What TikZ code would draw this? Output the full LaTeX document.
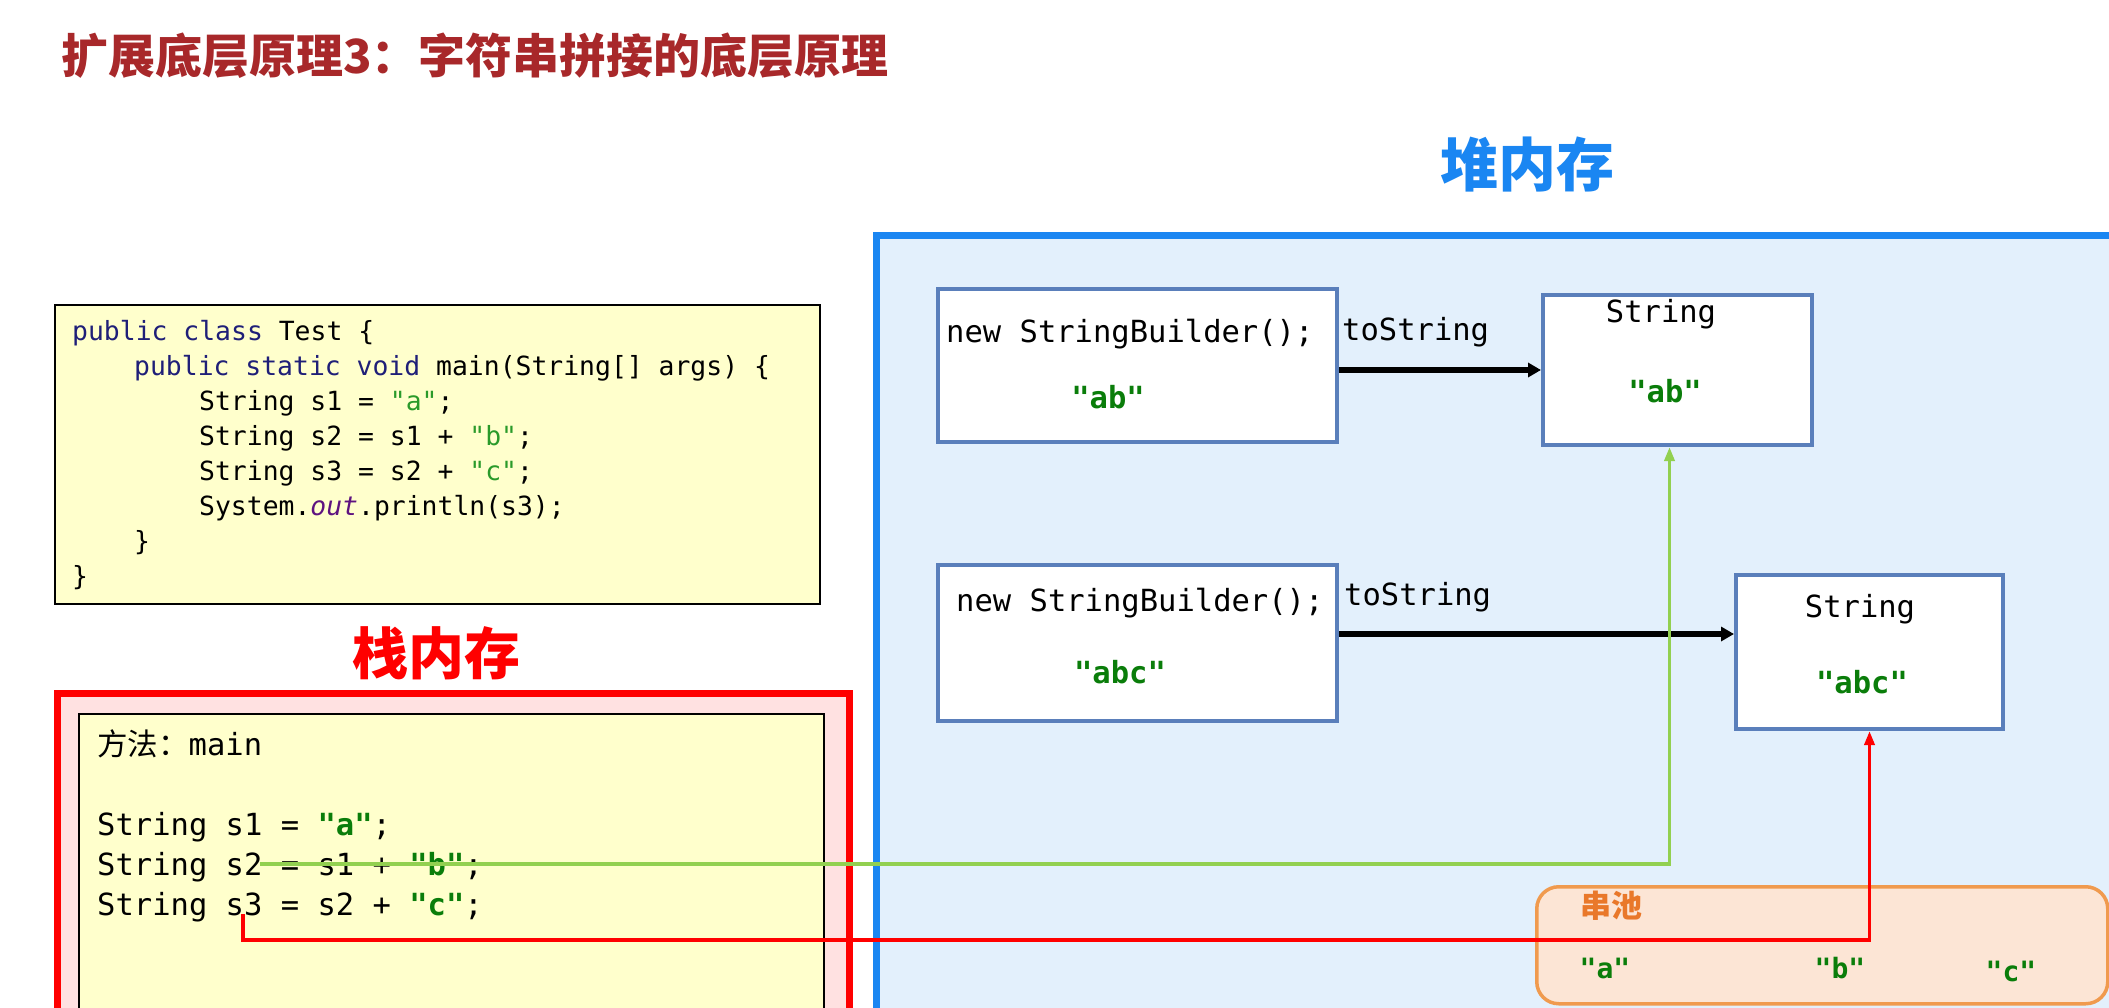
\documentclass[tikz,border=0pt]{standalone}
\usepackage{fontspec}
\usetikzlibrary{arrows.meta}
\newfontfamily\cjk{Noto Sans CJK SC}
\newfontfamily\mono{DejaVu Sans Mono}
\definecolor{titlered}{HTML}{A8282A}
\definecolor{stackred}{HTML}{FF0000}
\definecolor{stackfill}{HTML}{FFE1E1}
\definecolor{codefill}{HTML}{FFFFCC}
\definecolor{heapblue}{HTML}{1A86F2}
\definecolor{heapfill}{HTML}{E3F0FC}
\definecolor{boxblue}{HTML}{5A7FBB}
\definecolor{strgreen}{HTML}{0A7D0A}
\definecolor{codegreen}{HTML}{2A9A2A}
\definecolor{kwnavy}{HTML}{1F1F78}
\definecolor{outpurple}{HTML}{5E1380}
\definecolor{linkgreen}{HTML}{92D050}
\definecolor{poolfill}{HTML}{FCE5D5}
\definecolor{poolline}{HTML}{F09A4E}
\definecolor{poolorange}{HTML}{E9782A}
\tikzset{
  txt/.style={inner sep=0pt, anchor=base west},
  ctxt/.style={inner sep=0pt, anchor=base},
  codefont/.style={font=\mono\fontsize{26.4}{30}\selectfont},
  bigmono/.style={font=\mono\fontsize{30.5}{34}\selectfont},
  qstr/.style={font=\mono\bfseries\fontsize{30.5}{34}\selectfont, text=strgreen},
  poolstr/.style={font=\mono\bfseries\fontsize{28}{32}\selectfont, text=strgreen},
  objbox/.style={draw=boxblue, line width=4pt, fill=white, anchor=north west, inner sep=0pt},
  blackarrow/.style={line width=5.5pt, -{Triangle[length=13pt,width=14pt]}},
  greenlink/.style={draw=linkgreen, line width=3.5pt, -{Triangle[length=14pt,width=10pt]}},
  redlink/.style={draw=stackred, line width=3.5pt, -{Triangle[length=14pt,width=10pt]}},
}
\begin{document}
\begin{tikzpicture}[x=1pt,y=-1pt]
\clip (0,0) rectangle (2109,1008);
\fill[white] (0,0) rectangle (2109,1008);

% title
\node[txt, font=\cjk\bfseries\fontsize{47}{52}\selectfont, text=titlered] (title) at (61,74) {扩展底层原理3：字符串拼接的底层原理};

% heap area
\node[draw=heapblue, fill=heapfill, line width=7pt, anchor=north west, minimum width=1300pt, minimum height=840pt, inner sep=0pt] (heap) at (873,232) {};
\node[ctxt, font=\cjk\bfseries\fontsize{58}{64}\selectfont, text=heapblue] (heaplabel) at (1527,187) {堆内存};

% stack area
\node[draw=stackred, fill=stackfill, line width=7pt, anchor=north west, minimum width=792pt, minimum height=400pt, inner sep=0pt] (stack) at (54,690) {};
\node[ctxt, font=\cjk\bfseries\fontsize{56}{62}\selectfont, text=stackred] (stacklabel) at (436,674) {栈内存};
\node[draw=black, fill=codefill, line width=2pt, anchor=north west, minimum width=745pt, minimum height=380pt, inner sep=0pt] (frame) at (78,713) {};

% code box
\node[draw=black, fill=codefill, line width=2pt, anchor=north west, minimum width=765pt, minimum height=299pt, inner sep=0pt] (code) at (54,304) {};
\node[txt, codefont] (c1) at (72,340) {\textcolor{kwnavy}{public class} Test \{};
\node[txt, codefont] (c2) at (134,375) {\textcolor{kwnavy}{public static void} main(String[] args) \{};
\node[txt, codefont] (c3) at (199,410) {String s1 = \textcolor{codegreen}{"a"};};
\node[txt, codefont] (c4) at (199,445) {String s2 = s1 + \textcolor{codegreen}{"b"};};
\node[txt, codefont] (c5) at (199,480) {String s3 = s2 + \textcolor{codegreen}{"c"};};
\node[txt, codefont] (c6) at (199,515) {System.\textcolor{outpurple}{\itshape out}.println(s3);};
\node[txt, codefont] (c7) at (134,550) {\}};
\node[txt, codefont] (c8) at (72,585) {\}};

% stack frame text
\node[txt, bigmono] (m0) at (97,755) {{\cjk 方法：}main};
\node[txt, bigmono] (m1) at (97,835) {String s1 = {\bfseries\color{strgreen}"a"};};
\node[txt, bigmono] (m2) at (97,875) {String s2 = s1 + {\bfseries\color{strgreen}"b"};};
\node[txt, bigmono] (m3) at (97,915) {String s3 = s2 + {\bfseries\color{strgreen}"c"};};
\coordinate (s2pt) at (260,864);
\coordinate (s3pt) at (243,914);

% heap objects
\node[objbox, minimum width=399pt, minimum height=153pt] (sb1) at (936,287) {};
\node[objbox, minimum width=269pt, minimum height=150pt] (str1) at (1541,293) {};
\node[objbox, minimum width=399pt, minimum height=156pt] (sb2) at (936,563) {};
\node[objbox, minimum width=267pt, minimum height=154pt] (str2) at (1734,573) {};

\node[txt, bigmono] (sb1t) at (946,342) {new StringBuilder();};
\node[ctxt, qstr] (sb1v) at (1108,408) {"ab"};
\node[ctxt, bigmono] (str1t) at (1661,323) {String};
\node[ctxt, qstr] (str1v) at (1665,402) {"ab"};
\node[txt, bigmono] (ts1) at (1342,340) {toString};

\node[txt, bigmono] (sb2t) at (956,611) {new StringBuilder();};
\node[ctxt, qstr] (sb2v) at (1120,683) {"abc"};
\node[ctxt, bigmono] (str2t) at (1860,617) {String};
\node[ctxt, qstr] (str2v) at (1862,693) {"abc"};
\node[txt, bigmono] (ts2) at (1344,605) {toString};

% string pool
\node[draw=poolline, fill=poolfill, line width=3.5pt, rounded corners=22pt, anchor=north west, minimum width=571pt, minimum height=117pt, inner sep=0pt] (pool) at (1535,885) {};
\node[txt, font=\cjk\bfseries\fontsize{31}{36}\selectfont, text=poolorange] (pooltitle) at (1580,917) {串池};
\node[ctxt, poolstr] (pa) at (1605,978) {"a"};
\node[ctxt, poolstr] (pb) at (1840,978) {"b"};
\node[ctxt, poolstr] (pc) at (2011,981) {"c"};

% connectors
\draw[blackarrow] (sb1.east |- str1.west) -- (str1.west);
\coordinate (a2end) at ([yshift=18pt]str2.west);
\draw[blackarrow] (sb2.east |- a2end) -- (a2end);
\coordinate (g1) at ([xshift=-8pt]str1.south);
\draw[greenlink] (s2pt) -| (g1);
\draw[redlink] (s3pt) -- ++(0,26) -| (str2.south);
\end{tikzpicture}
\end{document}
